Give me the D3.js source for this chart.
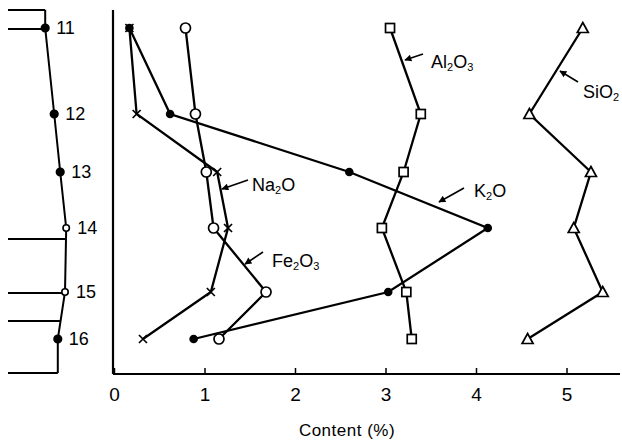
<!DOCTYPE html>
<meta charset="utf-8">
<head>
	<title>Content profile</title>
</head>
<style>
body{
	margin: 0;
	background: #fff;
}
svg text{
	font-family: "Liberation Sans", "DejaVu Sans", sans-serif;
	fill: #000;
}
</style>
<body>
<svg id="chart" width="622" height="441"></svg>

<script src="https://cdnjs.cloudflare.com/ajax/libs/d3/7.8.5/d3.min.js"></script>
<script>

// samples, top to bottom
var samples = ['11', '12', '13', '14', '15', '16'];
var depth = [0, 8.6, 14.4, 20.0, 26.4, 31.1];

// content (%)
var sio2 = [5.18, 4.59, 5.27, 5.08, 5.40, 4.57];
var al2o3 = [3.05, 3.39, 3.20, 2.96, 3.23, 3.29];
var k2o = [0.17, 0.62, 2.60, 4.13, 3.03, 0.88];
var na2o = [0.17, 0.25, 1.14, 1.26, 1.07, 0.32];
var fe2o3 = [0.79, 0.90, 1.02, 1.10, 1.68, 1.16];

var xTicks = [0, 1, 2, 3, 4, 5];

// left column
var profile = [6.2, 7.7, 8.7, 9.7, 9.5, 8.3];
var sampleMark = ['filled', 'filled', 'filled', 'open', 'open', 'filled'];
var boundaries = [-1.8, 0.1, 21.1, 26.5, 29.3, 34.5];

var svg = d3.select('#chart');

var x = d3.scaleLinear().domain([0, 5]).range([114, 566.5]);
var y = d3.scaleLinear().domain([-1.8, 34.6]).range([10, 374]);
var px = d3.scaleLinear().domain([0, 10]).range([8, 68]);

// axes
svg.append('line')
	.attr('x1', 113).attr('x2', 113)
	.attr('y1', y(-1.8)).attr('y2', y(34.6))
	.attr('stroke', '#000').attr('stroke-width', 2.2);

var xAxis = d3.axisBottom(x)
	.tickValues(xTicks)
	.tickSizeInner(-6)
	.tickSizeOuter(0)
	.tickPadding(14)
	.tickFormat(d3.format('d'));

var gx = svg.append('g')
	.attr('transform', 'translate(0,' + y(34.6) + ')')
	.call(xAxis);
gx.select('.domain').remove();
gx.append('line')
	.attr('x1', 113).attr('x2', 620)
	.attr('stroke', '#000').attr('stroke-width', 2.2);
gx.selectAll('.tick line').attr('stroke-width', 1.5);
gx.selectAll('.tick text')
	.style('font-size', '19px')
	.style('font-family', '"Liberation Sans", sans-serif');

svg.append('text')
	.attr('x', 347).attr('y', 436)
	.attr('text-anchor', 'middle')
	.style('font-size', '17px')
	.style('letter-spacing', '0.5px')
	.text('Content (%)');

// series
var series = [
	{name: 'SiO2', values: sio2, mark: 'triangle'},
	{name: 'Al2O3', values: al2o3, mark: 'square'},
	{name: 'K2O', values: k2o, mark: 'dot'},
	{name: 'Fe2O3', values: fe2o3, mark: 'circle'},
	{name: 'Na2O', values: na2o, mark: 'cross'}
];

var line = d3.line()
	.x(function(d){ return x(d.v); })
	.y(function(d){ return y(d.d); });

series.forEach(function(s){
	var pts = s.values.map(function(v, i){ return {v: v, d: depth[i]}; });
	var g = svg.append('g');
	g.append('path')
		.datum(pts)
		.attr('d', line)
		.attr('fill', 'none')
		.attr('stroke', '#000')
		.attr('stroke-width', 2.3);

	var m = g.selectAll('.mk').data(pts).enter().append('g')
		.attr('transform', function(d){ return 'translate(' + x(d.v) + ',' + y(d.d) + ')'; });

	if(s.mark == 'triangle'){
		m.append('path').attr('d', 'M0,-5.5L5.5,4.5L-5.5,4.5Z')
			.attr('fill', '#fff').attr('stroke', '#000').attr('stroke-width', 1.7);
	}else if(s.mark == 'square'){
		m.append('rect').attr('x', -4.5).attr('y', -4.5).attr('width', 9).attr('height', 9)
			.attr('fill', '#fff').attr('stroke', '#000').attr('stroke-width', 1.7);
	}else if(s.mark == 'dot'){
		m.append('circle').attr('r', 4.3).attr('fill', '#000');
	}else if(s.mark == 'circle'){
		m.append('circle').attr('r', 5)
			.attr('fill', '#fff').attr('stroke', '#000').attr('stroke-width', 1.7);
	}else if(s.mark == 'cross'){
		m.append('path').attr('d', 'M-4,-4L4,4M-4,4L4,-4')
			.attr('stroke', '#000').attr('stroke-width', 1.7);
	}
});

// labels with arrows
svg.append('defs').append('marker')
	.attr('id', 'arr')
	.attr('viewBox', '0 0 10 10')
	.attr('refX', 9).attr('refY', 5)
	.attr('markerWidth', 9).attr('markerHeight', 7)
	.attr('markerUnits', 'userSpaceOnUse')
	.attr('orient', 'auto')
	.append('path').attr('d', 'M0,0L10,5L0,10Z').attr('fill', '#000');

var labels = [
	{main: ['Al', 'O', ''], sub: ['2', '3'], lx: 431, ly: 68, ax1: 423, ay1: 54, ax2: 405, ay2: 60},
	{main: ['SiO', ''], sub: ['2'], lx: 583, ly: 98, ax1: 578, ay1: 82, ax2: 560, ay2: 71},
	{main: ['K', 'O'], sub: ['2'], lx: 474, ly: 197, ax1: 464, ay1: 188, ax2: 439, ay2: 202},
	{main: ['Na', 'O'], sub: ['2'], lx: 252, ly: 191, ax1: 248, ay1: 180, ax2: 222, ay2: 189},
	{main: ['Fe', 'O', ''], sub: ['2', '3'], lx: 272, ly: 267, ax1: 263, ay1: 252, ax2: 245, ay2: 264}
];

labels.forEach(function(l){
	var t = svg.append('text').attr('x', l.lx).attr('y', l.ly).style('font-size', '18px');
	l.main.forEach(function(part, i){
		if(part) t.append('tspan').attr('dy', i == 0 ? 0 : -3).text(part);
		if(i < l.sub.length){
			t.append('tspan').attr('dy', 3).style('font-size', '11px').text(l.sub[i]);
		}
	});
	svg.append('line')
		.attr('x1', l.ax1).attr('y1', l.ay1)
		.attr('x2', l.ax2).attr('y2', l.ay2)
		.attr('stroke', '#000').attr('stroke-width', 1.6)
		.attr('marker-end', 'url(#arr)');
});

// left column
function profileAt(dd){
	var pd = [-1.8].concat(depth, [34.6]);
	var pv = [profile[0]].concat(profile, [profile[profile.length - 1]]);
	return d3.scaleLinear().domain(pd).range(pv)(dd);
}

var colPts = [-1.8].concat(depth, [34.5]).map(function(dd){ return {d: dd, p: profileAt(dd)}; });
svg.append('path')
	.datum(colPts)
	.attr('d', d3.line().x(function(d){ return px(d.p); }).y(function(d){ return y(d.d); }))
	.attr('fill', 'none').attr('stroke', '#000').attr('stroke-width', 2);

svg.selectAll('.bound').data(boundaries).enter().append('line')
	.attr('x1', px(0)).attr('x2', function(d){ return px(profileAt(d)); })
	.attr('y1', function(d){ return y(d); }).attr('y2', function(d){ return y(d); })
	.attr('stroke', '#000').attr('stroke-width', 1.8);

var sg = svg.selectAll('.smp').data(samples).enter().append('g')
	.attr('transform', function(d, i){ return 'translate(' + px(profile[i]) + ',' + y(depth[i]) + ')'; });
sg.append('circle')
	.attr('r', function(d, i){ return sampleMark[i] == 'filled' ? 3.8 : 3.2; })
	.attr('fill', function(d, i){ return sampleMark[i] == 'filled' ? '#000' : '#fff'; })
	.attr('stroke', '#000').attr('stroke-width', 1.6);
sg.append('text')
	.attr('x', 11).attr('y', 6)
	.style('font-size', '18px')
	.text(function(d){ return d; });

</script>
</body>
</html>
